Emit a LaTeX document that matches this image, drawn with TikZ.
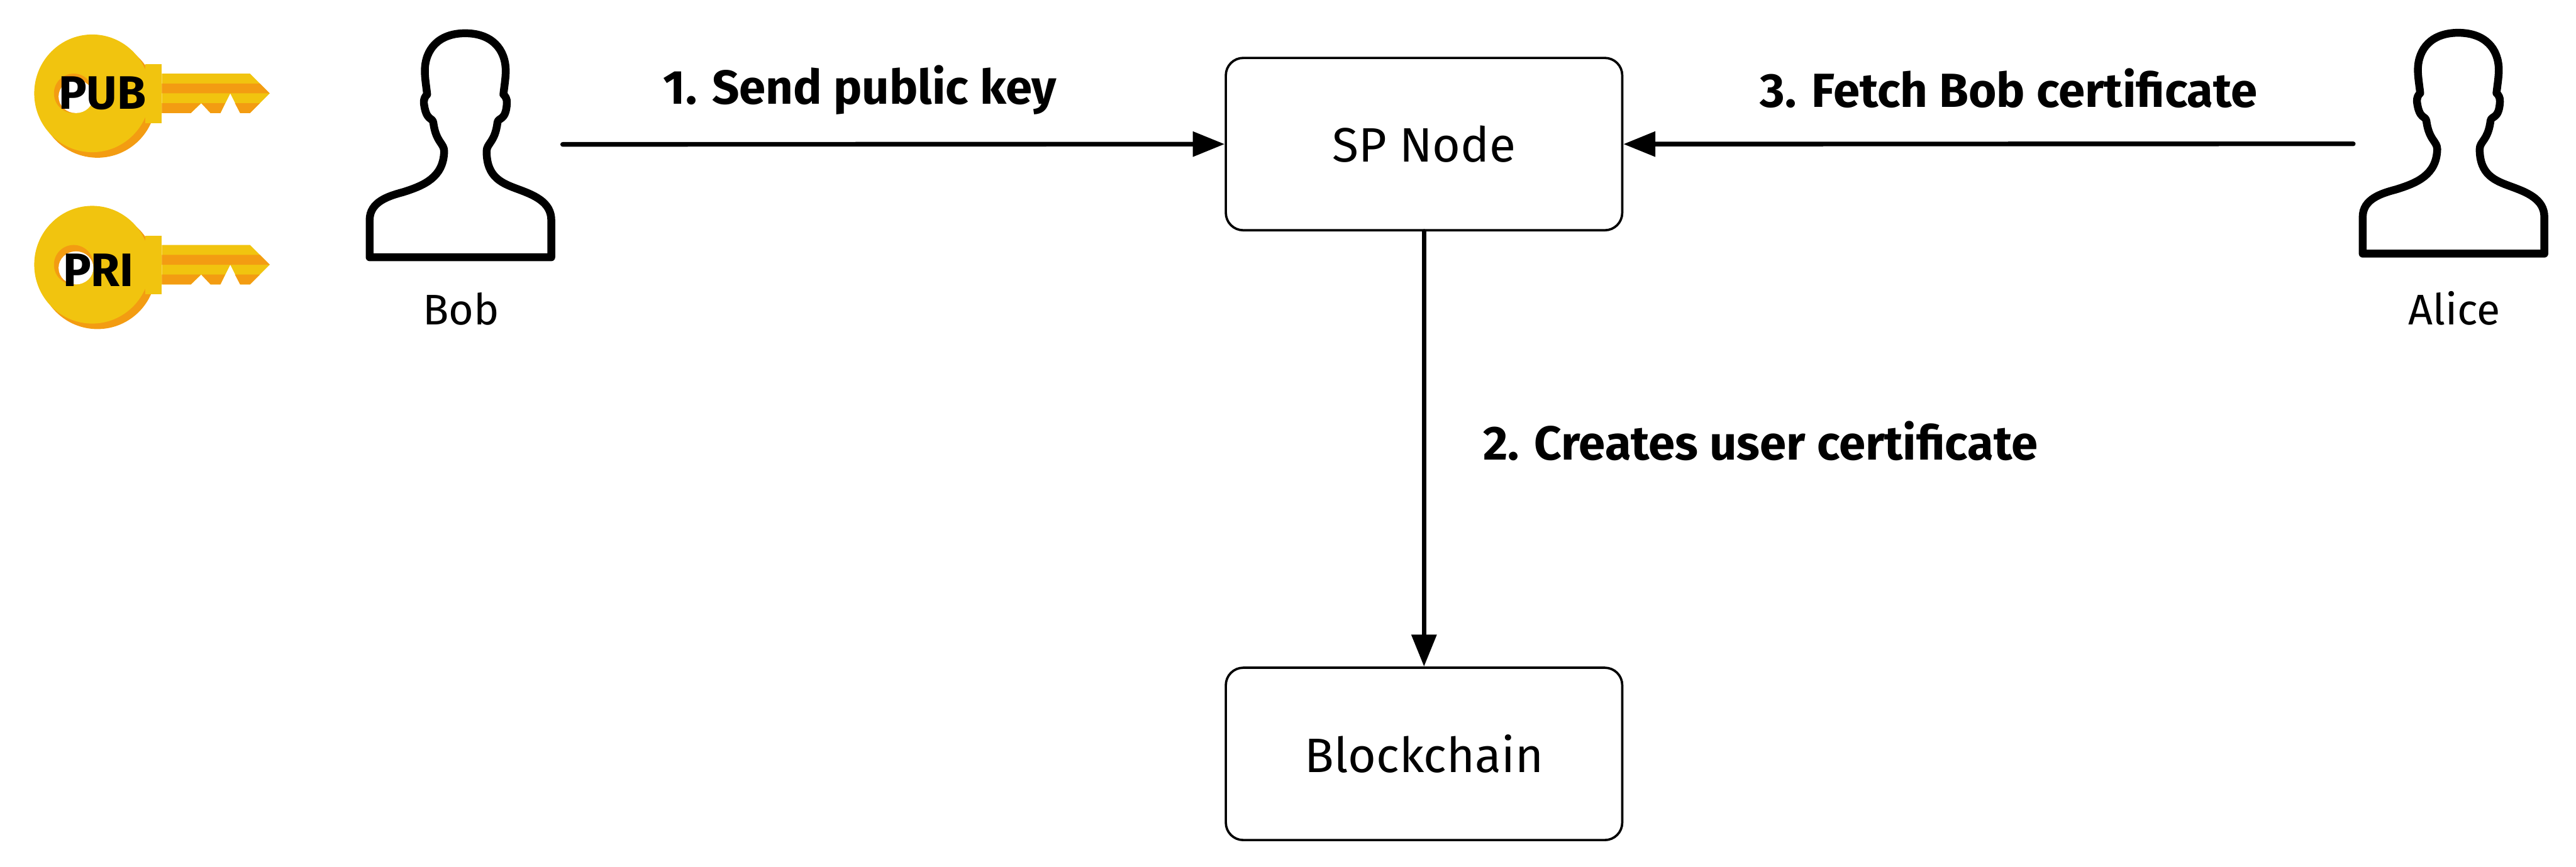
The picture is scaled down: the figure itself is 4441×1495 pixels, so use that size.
\documentclass[tikz,border=0pt]{standalone}
\usepackage{fontspec}
\setmainfont{Fira Sans}
\usetikzlibrary{arrows.meta,positioning}
\definecolor{llave}{HTML}{F1C40F}
\definecolor{llaveosc}{HTML}{F39C12}
\begin{document}
\begin{tikzpicture}[x=0.01cm,y=-0.01cm,
  caja/.style={draw=black, line width=0.04cm, rounded corners=0.3cm, minimum width=6.83cm,
               minimum height=2.97cm, inner sep=0pt, font=\fontsize{23.7}{26}\selectfont},
  flecha/.style={-{Triangle[length=0.55cm,width=0.42cm]}, line width=0.08cm, line cap=round, draw=black},
  etiqueta/.style={font=\fontsize{23.45}{28}\selectfont\bfseries, inner sep=0pt, anchor=base west},
  nombre/.style={font=\fontsize{21}{24}\selectfont, inner sep=0pt, anchor=base},
  llavetexto/.style={font=\fontsize{23}{26}\selectfont\bfseries, inner sep=0pt, anchor=base},
  llaveicono/.pic={
    \fill[llaveosc] (168,171) circle [radius=101];
    \fill[llave] (159,161) ellipse [x radius=100, y radius=101.5];
    \fill[llaveosc] (127,161) ellipse [x radius=34, y radius=34];
    \fill[white] (131,166.5) ellipse [x radius=30, y radius=28.5];
    \fill[llave] (250,111) rectangle (279,212);
    \fill[llave] (279,127) -- (431,127) -- (465,161) -- (431,195) -- (414,195) -- (397,161)
      -- (380,195) -- (363,195) -- (347,178) -- (329,195) -- (279,195) -- cycle;
    \fill[llaveosc] (279,144) -- (448,144) -- (465,161) -- (279,161) -- cycle;
    \fill[llaveosc] (279,178) -- (346,178) -- (329,195) -- (279,195) -- cycle;
    \fill[llaveosc] (347,178) -- (388,178) -- (380,195) -- (363,195) -- cycle;
    \fill[llaveosc] (405,178) -- (448,178) -- (431,195) -- (414,195) -- cycle;
  },
  personaicono/.pic={
    \draw[x=0.003333cm, y=-0.003954cm, line width=0.135cm, line join=round]
      (172,1122) -- (172,960) .. controls (172,880) and (270,855) .. (345,838)
      .. controls (450,810) and (555,775) .. (558,660)
      .. controls (558,625) and (515,620) .. (502,535)
      .. controls (497,510) and (465,530) .. (453,450)
      .. controls (452,430) and (460,420) .. (470,412)
      .. controls (465,375) and (458,340) .. (458,310)
      .. controls (458,215) and (530,145) .. (667,145)
      .. controls (805,145) and (877,215) .. (877,310)
      .. controls (877,340) and (870,375) .. (865,412)
      .. controls (875,420) and (884,430) .. (883,450)
      .. controls (878,530) and (838,510) .. (834,535)
      .. controls (822,620) and (778,625) .. (778,660)
      .. controls (778,775) and (860,800) .. (940,825)
      .. controls (1020,850) and (1113,880) .. (1113,960)
      -- (1113,1122) -- cycle;
  },
]
  \useasboundingbox (0,0) rectangle (4441,1495);

  \pic at (0,0) {llaveicono};
  \pic at (0,295.5) {llaveicono};
  \node[llavetexto] (pub) at (176.5,188) {PUB};
  \node[llavetexto] (pri) at (169.5,493.5) {PRI};

  \pic at (580,0) {personaicono};
  \pic[yscale=.986] at (4016,0) {personaicono};
  \node[nombre] (bob) at (795,560) {Bob};
  \node[nombre] (alice) at (4231,560) {Alice};
  \coordinate (bobsale) at (970,249);
  \coordinate (alicesale) at (4057,248);

  \node[caja] (sp) at (2455,248.5) {SP Node};
  \node[caja, below=7.5cm of sp] (chain) {Blockchain};

  \draw[flecha] (bobsale) -- (sp.west);
  \draw[flecha] (alicesale) -- (sp.east);
  \draw[flecha] (sp.south) -- (chain.north);

  \node[etiqueta] (envio) at (1143,179) {1. Send public key};
  \node[etiqueta] (crea) at (2556,793) {2. Creates user certificate};
  \node[etiqueta] (busca) at (3034,185) {3. Fetch Bob certificate};
\end{tikzpicture}
\end{document}
